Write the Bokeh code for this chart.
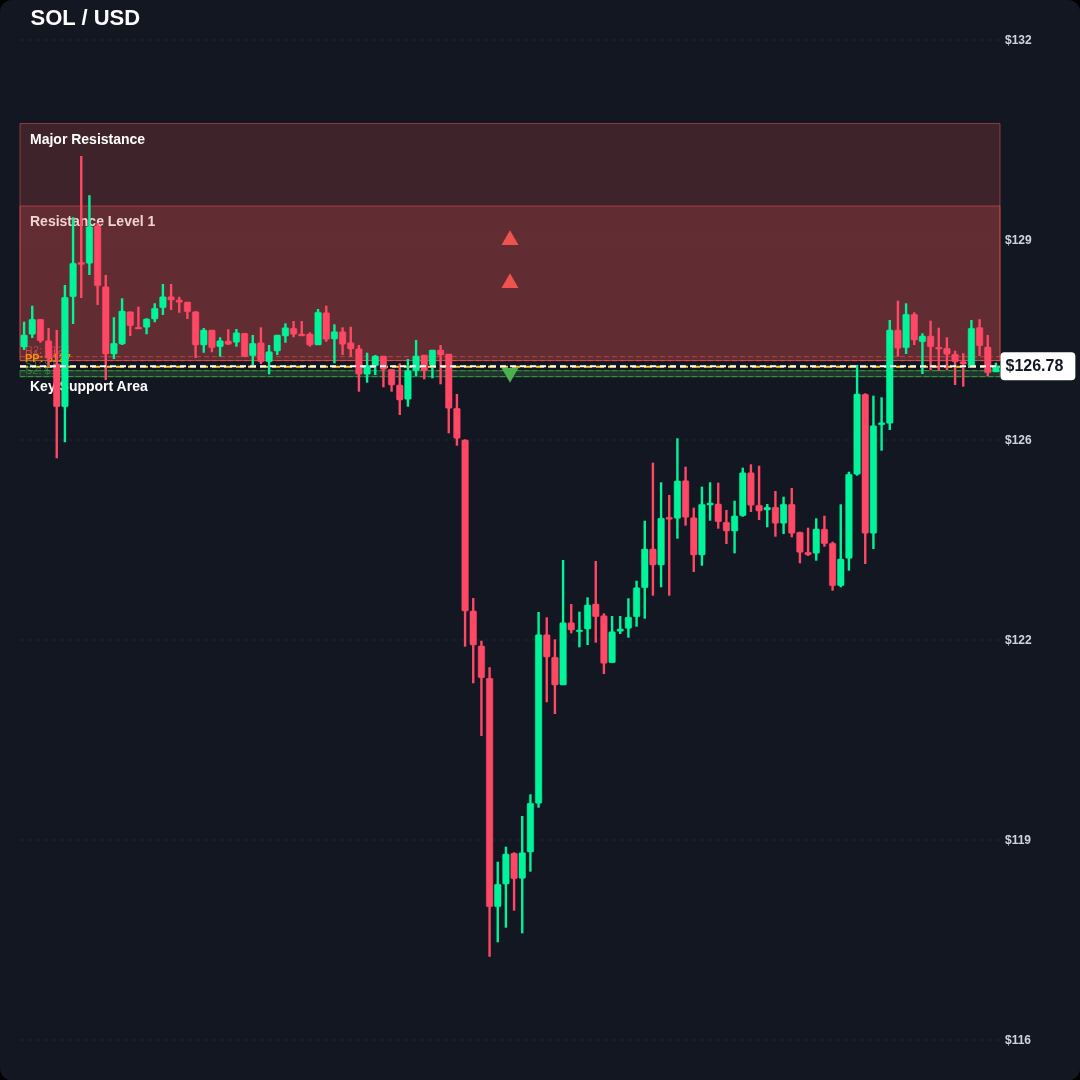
from bokeh.plotting import figure
from bokeh.models import Range1d, Label, ColumnDataSource, FixedTicker
from bokeh.core.properties import value
from bokeh.embed import file_html
from bokeh.resources import INLINE

opens = [127.088,127.291,127.531,127.189,126.816,126.133,127.893,128.44,128.427,129.024,128.053,126.976,127.136,127.653,127.403,127.403,127.536,127.717,127.893,127.84,
 127.808,127.653,127.12,127.36,127.093,127.184,127.163,127.307,126.949,127.157,126.853,127.024,127.264,127.387,127.296,127.296,127.12,127.637,127.216,127.333,
 127.157,127.059,126.653,126.789,126.944,126.731,126.48,126.251,126.709,126.96,126.8,127.04,126.976,126.107,125.6,122.864,122.304,121.787,118.133,118.496,
 118.987,118.587,119.008,119.787,122.485,122.123,121.68,122.677,122.533,122.576,122.976,122.789,122.037,122.539,122.587,122.773,123.237,123.856,123.6,124.363,
 124.347,124.949,124.357,123.76,124.56,124.576,124.283,124.144,124.389,125.077,124.555,124.48,124.523,124.267,124.571,124.123,123.803,123.787,124.173,123.947,
 123.269,123.707,125.051,126.331,124.107,125.845,125.867,127.36,127.077,127.611,127.173,127.264,127.083,127.067,126.971,126.853,126.773,127.4,127.088,126.688]
closes = [127.28,127.531,127.189,126.907,126.133,127.883,128.427,128.408,129.013,128.069,126.976,127.147,127.664,127.429,127.376,127.536,127.707,127.893,127.84,127.803,
 127.653,127.12,127.36,127.077,127.189,127.131,127.317,126.933,127.147,126.853,127.013,127.28,127.397,127.291,127.264,127.12,127.643,127.211,127.333,127.131,
 127.056,126.653,126.789,126.944,126.731,126.48,126.24,126.709,126.944,126.709,127.04,126.96,126.107,125.627,122.864,122.32,121.797,118.133,118.491,118.976,
 118.581,118.997,119.787,122.485,122.128,121.68,122.677,122.56,122.56,122.96,122.773,122.027,122.533,122.576,122.763,123.237,123.856,123.6,124.347,124.331,
 124.944,124.363,123.76,124.571,124.592,124.293,124.144,124.384,125.077,124.555,124.464,124.523,124.267,124.571,124.107,123.803,123.765,124.176,123.941,123.269,
 123.696,125.051,126.336,124.107,125.829,125.877,127.36,127.067,127.611,127.2,127.264,127.093,127.056,126.971,126.853,126.816,127.387,127.109,126.675,126.784]
highs = [127.493,127.749,127.536,127.392,127.36,128.08,129.163,130.144,129.515,129.072,128.24,127.563,127.867,127.653,127.733,127.547,127.787,128.096,128.096,127.893,
 127.808,127.659,127.392,127.36,127.243,127.371,127.376,127.307,127.28,127.403,127.12,127.28,127.467,127.504,127.504,127.323,127.696,127.749,127.451,127.403,
 127.413,127.12,126.997,126.96,126.944,126.731,126.827,126.896,127.2,126.96,127.04,127.12,126.976,126.336,125.611,123.072,122.389,121.963,118.853,119.093,
 119.003,119.584,119.931,122.848,122.763,122.411,123.68,122.976,122.853,123.083,123.664,122.827,122.784,122.784,123.067,123.349,124.309,125.237,124.923,124.72,
 125.627,125.173,124.517,124.853,124.923,124.917,124.48,124.629,125.157,125.211,125.189,124.576,124.784,124.693,124.832,124.133,124.197,124.347,124.389,123.973,
 124.571,125.093,126.8,126.347,126.309,126.283,127.52,127.829,127.787,127.643,127.307,127.509,127.397,127.243,127.029,126.987,127.52,127.533,127.28,126.837]
lows = [127.04,127.232,127.157,126.773,125.307,125.563,127.456,127.872,128.24,127.76,126.56,126.896,127.12,127.264,127.376,127.291,127.483,127.6,127.68,127.637,
 127.536,126.912,126.997,127.003,126.933,127.12,127.093,126.933,126.8,126.816,126.651,126.96,127.157,127.243,127.264,127.093,127.12,127.173,126.827,126.96,
 126.928,126.373,126.517,126.64,126.443,126.373,126.0,126.133,126.624,126.571,126.587,126.491,125.707,125.509,122.293,121.707,120.864,117.333,117.563,117.797,
 118.069,117.707,118.693,119.717,121.403,121.216,121.68,122.507,122.283,122.32,122.357,121.856,122.037,122.496,122.437,122.613,122.741,123.109,123.243,123.109,
 124.021,124.229,123.488,123.589,124.309,124.181,123.936,123.787,124.373,124.448,124.32,124.203,124.053,124.096,124.043,123.627,123.744,123.669,123.893,123.189,
 123.243,123.509,125.029,123.616,123.856,125.429,125.76,126.933,126.976,127.12,126.656,126.72,126.704,126.72,126.48,126.453,126.773,126.944,126.624,126.688]

tick_values = [116, 119.2, 122.4, 125.6, 128.8, 132]
tick_labels = ["$116", "$119", "$122", "$126", "$129", "$132"]
current_price = 126.78
title_text = "SOL / USD"
zone_names = ["Major Resistance", "Resistance Level 1", "Key Support Area"]
zone_tops = [130.664, 129.344, 126.709]
zone_bottoms = [126.872, 126.872, 126.613]
level_names = ["R2: $127", "R1: $127", "PP: $127", "S1: $127", "S2: $127"]
level_values = [126.933, 126.869, 126.772, 126.709, 126.613]
up_marker_x = [59.5, 59.5]
up_marker_y = [128.80, 128.112]
down_marker_x = [59.5]
down_marker_y = [126.672]

BG = "#131722"
UP = "#00f59b"
DOWN = "#ff4766"
RED = "#ef5350"
GREEN = "#4caf50"

n = len(opens)
xs = list(range(n))
colors = [UP if c >= o else DOWN for o, c in zip(opens, closes)]
src = ColumnDataSource(dict(x=xs, o=opens, c=closes, h=highs, l=lows, color=colors))

band = 980 / n
left_edge, right_edge = -0.5, n - 0.5
span_l = [left_edge]
span_r = [right_edge]

p = figure(width=1080, height=1080, output_backend="svg", toolbar_location=None,
           x_range=Range1d(left_edge - 19.5 / band, right_edge + 80.5 / band), y_range=Range1d(115.352, 132.632),
           x_axis_location=None, y_axis_location="right",
           min_border=0, min_border_left=0, min_border_right=0, min_border_top=0, min_border_bottom=0,
           border_fill_color=BG, background_fill_color=BG, outline_line_color=None,
           styles={"position": "fixed", "left": "0", "top": "0", "background-color": BG,
                   "border-radius": "12px", "overflow": "hidden", "box-shadow": "0 0 0 40px #000000"})

p.xgrid.visible = False
p.ygrid.visible = False
p.segment(x0=[left_edge] * len(tick_values), x1=[right_edge] * len(tick_values), y0=tick_values, y1=tick_values,
          line_color="#ffffff", line_alpha=0.06, line_dash="4 4", line_width=1)

ax = p.yaxis[0]
ax.fixed_location = right_edge
ax.ticker = FixedTicker(ticks=tick_values)
ax.major_label_overrides = dict(zip(tick_values, tick_labels))
ax.axis_line_color = None
ax.major_tick_line_color = None
ax.minor_tick_line_color = None
ax.major_tick_out = 0
ax.major_tick_in = 0
ax.major_label_text_color = "#d1d4dc"
ax.major_label_text_font = "Liberation Sans"
ax.major_label_text_font_size = "12px"
ax.major_label_text_font_style = "bold"
ax.major_label_standoff = 5

# resistance / support zones with their labels
zone_colors = [RED, RED, GREEN]
label_colors = ["#ffffff", "#f0d3d3", "#ffffff"]
for i in range(3):
    p.quad(left=left_edge, right=right_edge, top=zone_tops[i], bottom=zone_bottoms[i],
           fill_color=zone_colors[i], fill_alpha=0.2, line_color=zone_colors[i], line_alpha=0.5, line_width=1)
    p.text(x=span_l, y=[zone_tops[i]], text=[zone_names[i]], x_offset=10, y_offset=15,
           text_color=label_colors[i], text_font=value("Liberation Sans"), text_font_style="bold",
           text_font_size="14px", text_baseline="middle", text_align="left")

# pivot levels
level_colors = [RED, RED, "#ffd02e", GREEN, GREEN]
level_text_colors = ["#ef5350", "#ef5350", "#ff9800", "#4caf50", "#4caf50"]
for i, lv in enumerate(level_values):
    dash = "8 4" if i == 2 else "5 3"
    alpha = 1 if i == 2 else 0.65
    p.segment(x0=span_l, x1=span_r, y0=[lv], y1=[lv], line_color=level_colors[i], line_alpha=alpha,
              line_dash=dash, line_width=2 if i == 2 else 1)
    p.text(x=span_l, y=[lv], text=[level_names[i]], x_offset=5, y_offset=-9 if i == 2 else -7,
           text_color=level_text_colors[i], text_alpha=0.95 if i == 2 else 0.55,
           text_font=value("Liberation Sans"), text_font_style="bold" if i == 2 else "normal",
           text_font_size="11px", text_baseline="middle", text_align="left")

# candles
p.segment(x0="x", y0="l", x1="x", y1="h", line_color="color", line_width=2.4, source=src)
p.vbar(x="x", top="o", bottom="c", width=0.8, fill_color="color", line_color="color", line_width=0.5,
       border_radius=1, source=src)

# signals
p.scatter(x=up_marker_x, y=up_marker_y, marker="triangle", size=17, fill_color=RED, line_color=RED, line_width=0)
p.scatter(x=down_marker_x, y=down_marker_y, marker="inverted_triangle", size=17, fill_color=GREEN,
          line_color=GREEN, line_width=0)

# current price
p.segment(x0=span_l, x1=span_r, y0=[current_price], y1=[current_price], line_color="#ffffff", line_dash="6 4",
          line_width=2)
p.add_layout(Label(x=1000, y=current_price, x_units="screen", text=f"${current_price:.2f}",
                   text_color="#131722", text_font="Liberation Sans", text_font_style="bold",
                   text_font_size="16px", text_baseline="middle", text_align="left",
                   background_fill_color="#ffffff", border_radius=4, padding=(5, 12, 5, 6), level="overlay"))
p.add_layout(Label(x=30, y=1063, x_units="screen", y_units="screen", text=title_text,
                   text_color="#ffffff", text_font="Liberation Sans", text_font_style="bold",
                   text_font_size="22px", text_baseline="middle", text_align="left", level="overlay"))

open("out.html", "w").write(file_html(p, INLINE))
